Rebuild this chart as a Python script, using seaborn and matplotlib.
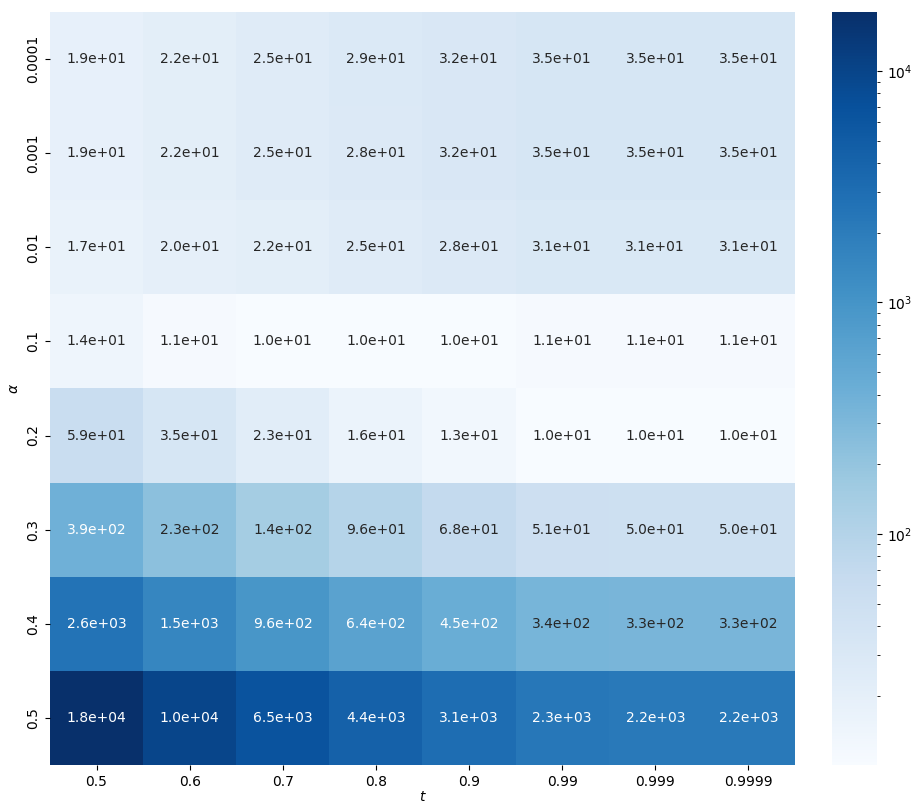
import numpy as np
import pandas as pd
import matplotlib
matplotlib.use("Agg")
import matplotlib.pyplot as plt
from matplotlib.colors import LogNorm
import seaborn as sns

alphas = ["0.0001", "0.001", "0.01", "0.1", "0.2", "0.3", "0.4", "0.5"]
ts = ["0.5", "0.6", "0.7", "0.8", "0.9", "0.99", "0.999", "0.9999"]

row_00001 = [19, 22, 25, 29, 32, 35, 35, 35]
row_0001 = [19, 22, 25, 28, 32, 35, 35, 35]
row_001 = [17, 20, 22, 25, 28, 31, 31, 31]
row_01 = [14, 11, 10, 10, 10, 11, 11, 11]
row_02 = [59, 35, 23, 16, 13, 10.04, 10.03, 10.03]
row_03 = [390, 230, 140, 96, 68, 51, 50, 50]
row_04 = [2600, 1500, 960, 640, 450, 340, 330, 330]
row_05 = [18000, 10000, 6500, 4400, 3100, 2300, 2200, 2200]

df = pd.DataFrame([row_00001, row_0001, row_001, row_01, row_02, row_03, row_04, row_05],
                  index=alphas, columns=ts, dtype=float)

fig = plt.figure(figsize=(9.12, 8.05), dpi=100)
ax = fig.add_axes([0.0548, 0.0497, 0.8169, 0.9354])
cax = fig.add_axes([0.9123, 0.0497, 0.0493, 0.9354])

# min sits just above 10 so the 10^1 label falls off the bar, as in the original
sns.heatmap(df, ax=ax, cbar_ax=cax, cmap="Blues",
            norm=LogNorm(vmin=10.03, vmax=df.values.max()),
            annot=True, fmt=".1e")
ax.set_xlabel("$t$", labelpad=1)
ax.set_ylabel(r"$\alpha$")

fig.savefig("out.png", dpi=100)
